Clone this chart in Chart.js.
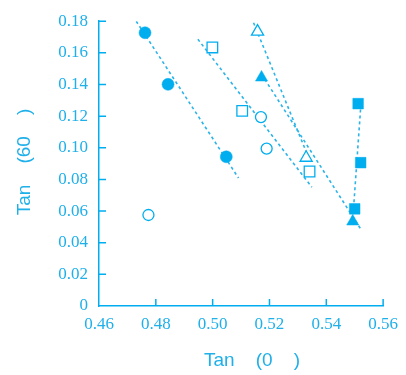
<!DOCTYPE html>
<html>
<head>
<meta charset="utf-8">
<script src="https://cdn.jsdelivr.net/npm/chart.js@4"></script>
<style>
  html, body { margin: 0; padding: 0; background: #ffffff; }
  canvas { display: block; }
</style>
</head>
<body>
<canvas id="chart" width="406" height="375"></canvas>
<script>
// measured points, one pair of arrays per marker type
const filledCircleX = [0.4762, 0.4843, 0.5048];
const filledCircleY = [0.1727, 0.1401, 0.0943];
const openCircleX = [0.4774, 0.5170, 0.5190];
const openCircleY = [0.0575, 0.1194, 0.0995];
const openSquareX = [0.4999, 0.5104, 0.5341];
const openSquareY = [0.1634, 0.1233, 0.0850];
const openTriangleX = [0.5158, 0.5329];
const openTriangleY = [0.1734, 0.0937];
const filledTriangleX = [0.5172, 0.5493];
const filledTriangleY = [0.1444, 0.0534];
const filledSquareX = [0.5512, 0.5521, 0.5500];
const filledSquareY = [0.1279, 0.0906, 0.0614];

// dashed trend lines (start / end)
const trendAX = [0.4731, 0.5091];
const trendAY = [0.1800, 0.0809];
const trendBX = [0.4948, 0.5349];
const trendBY = [0.1686, 0.0751];
const trendCX = [0.5144, 0.5342];
const trendCY = [0.1790, 0.0919];
const trendDX = [0.5172, 0.5522];
const trendDY = [0.1465, 0.0484];
const trendEX = [0.5522, 0.5494];
const trendEY = [0.1280, 0.0570];

// axis ticks
const xTicks = [0.46, 0.48, 0.50, 0.52, 0.54, 0.56];
const yTicks = [0, 0.02, 0.04, 0.06, 0.08, 0.10, 0.12, 0.14, 0.16, 0.18];

const xTitle = 'Tan    (0    )';
const yTitle = 'Tan    (60    )';

const CYAN = '#00aeef';
const TEXT = '#1fb0ea';

function pairs(xs, ys) {
    return xs.map((x, i) => ({ x: x, y: ys[i] }));
}

function markerSet(xs, ys, style, filled, radius) {
    return {
        data: pairs(xs, ys),
        pointStyle: style,
        pointRadius: radius,
        pointHoverRadius: radius,
        pointBackgroundColor: filled ? CYAN : '#ffffff',
        pointBorderColor: CYAN,
        pointBorderWidth: filled ? 0.5 : 1.3,
        showLine: false,
        order: 1
    };
}

function trendSet(xs, ys) {
    return {
        data: pairs(xs, ys),
        showLine: true,
        borderColor: '#2bb4e8',
        borderWidth: 1.6,
        borderDash: [3, 3],
        pointRadius: 0,
        fill: false,
        order: 2
    };
}

// ticks point into the plot, so draw them from the scales ourselves
const inwardTicks = {
    id: 'inwardTicks',
    afterDatasetsDraw(chart) {
        const ctx = chart.ctx;
        const xs = chart.scales.x;
        const ys = chart.scales.y;
        const area = chart.chartArea;
        ctx.save();
        ctx.strokeStyle = CYAN;
        ctx.lineWidth = 1.5;
        ctx.beginPath();
        xTicks.slice(1).forEach(v => {
            const px = xs.getPixelForValue(v);
            ctx.moveTo(px, area.bottom);
            ctx.lineTo(px, area.bottom - 7);
        });
        yTicks.slice(1).forEach(v => {
            const py = ys.getPixelForValue(v);
            ctx.moveTo(area.left, py);
            ctx.lineTo(area.left + 7, py);
        });
        ctx.stroke();
        ctx.restore();
    }
};

// axis titles
const axisTitles = {
    id: 'axisTitles',
    afterDraw(chart) {
        const ctx = chart.ctx;
        ctx.save();
        ctx.fillStyle = TEXT;
        ctx.font = '19px "Liberation Sans", Arial, sans-serif';
        ctx.textAlign = 'center';
        ctx.textBaseline = 'middle';
        ctx.fillText(xTitle, 252, 361);
        ctx.translate(25, 162);
        ctx.rotate(-Math.PI / 2);
        ctx.fillText(yTitle, 0, 0);
        ctx.restore();
    }
};

const canvas = document.getElementById('chart');

const chartConfig = {
    type: 'scatter',
    data: {
        datasets: [
            markerSet(filledCircleX, filledCircleY, 'circle', true, 6),
            markerSet(openCircleX, openCircleY, 'circle', false, 5.5),
            markerSet(openSquareX, openSquareY, 'rect', false, 7.5),
            markerSet(openTriangleX, openTriangleY, 'triangle', false, 7),
            markerSet(filledTriangleX, filledTriangleY, 'triangle', true, 7),
            markerSet(filledSquareX, filledSquareY, 'rect', true, 7.5),
            trendSet(trendAX, trendAY),
            trendSet(trendBX, trendBY),
            trendSet(trendCX, trendCY),
            trendSet(trendDX, trendDY),
            trendSet(trendEX, trendEY)
        ]
    },
    options: {
        responsive: false,
        animation: false,
        layout: {
            padding: { top: 16, right: 19, left: 0, bottom: 0 }
        },
        plugins: {
            legend: { display: false },
            tooltip: { enabled: false }
        },
        scales: {
            x: {
                type: 'linear',
                min: 0.46,
                max: 0.56,
                afterFit: scale => { scale.height = 69; },
                afterBuildTicks: scale => {
                    scale.ticks = xTicks.map(v => ({ value: v }));
                },
                grid: { display: false, drawTicks: false },
                border: { display: true, color: CYAN, width: 1.5 },
                ticks: {
                    padding: 8,
                    color: TEXT,
                    font: { family: '"Liberation Serif", "Times New Roman", serif', size: 17 },
                    callback: v => v.toFixed(2)
                }
            },
            y: {
                type: 'linear',
                min: 0,
                max: 0.18,
                afterFit: scale => { scale.width = 99; },
                afterBuildTicks: scale => {
                    scale.ticks = yTicks.map(v => ({ value: v }));
                },
                grid: { display: false, drawTicks: false },
                border: { display: true, color: CYAN, width: 1.5 },
                ticks: {
                    padding: 11,
                    color: TEXT,
                    font: { family: '"Liberation Serif", "Times New Roman", serif', size: 17 },
                    callback: v => (v === 0 ? '0' : v.toFixed(2))
                }
            }
        }
    },
    plugins: [inwardTicks, axisTitles]
};

new Chart(canvas, chartConfig);
</script>
</body>
</html>
